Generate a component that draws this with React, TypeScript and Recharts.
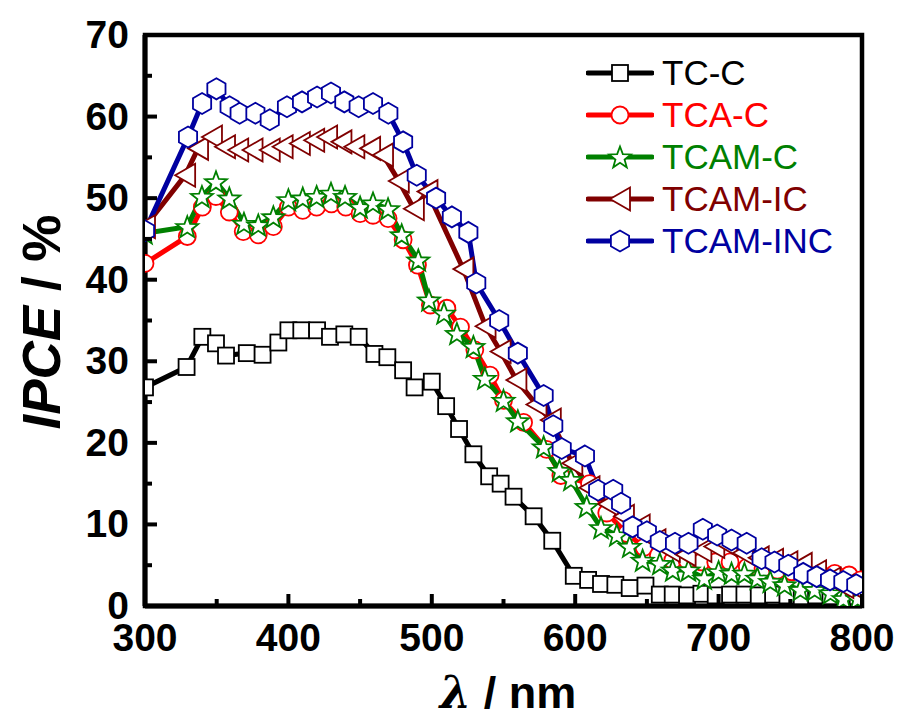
import React from "react";
import { LineChart, Line, XAxis, YAxis, ReferenceArea } from "recharts";

// wavelength (nm) / IPCE (%)
const TC_X = [300, 329, 340, 349.5, 356.5, 371, 382, 393, 400, 409, 420, 429, 439, 449, 460, 469, 480, 488, 500, 510, 519, 529, 540, 548, 557, 571, 584, 599, 609, 618, 628, 638, 649, 659, 668, 678, 688, 698, 708, 718, 728, 738, 748, 758, 768, 778, 788, 797];
const TC_Y = [26.8, 29.3, 33.0, 32.2, 30.7, 31.0, 30.8, 32.3, 33.8, 33.8, 33.8, 33.0, 33.3, 33.0, 30.9, 30.5, 28.9, 26.8, 27.5, 24.5, 21.7, 18.6, 15.9, 15.0, 13.4, 11.0, 8.0, 3.7, 3.2, 2.7, 2.6, 2.2, 2.5, 1.4, 1.4, 1.3, 1.5, 1.3, 1.4, 1.4, 1.3, 1.4, 1.3, 1.2, 1.3, 1.2, 1.3, 1.2];

const TCA_X = [300, 329.5, 340, 349.5, 358.8, 368.5, 379, 389.5, 400, 410, 419.7, 430, 440, 450, 459, 469.5, 480, 490, 499, 510.5, 520, 530, 540.6, 550, 564, 580, 590, 610, 622, 636, 648, 658, 668, 678, 688, 698, 708, 720, 731, 741, 751, 761, 771, 781, 791, 799];
const TCA_Y = [42.0, 45.3, 48.9, 50.2, 48.3, 45.9, 45.5, 46.5, 48.9, 48.5, 48.9, 49.3, 48.9, 48.1, 47.9, 47.5, 44.9, 41.8, 36.9, 36.5, 34.2, 31.4, 28.3, 25.2, 22.5, 19.2, 16.0, 15.0, 11.4, 8.9, 7.2, 6.2, 5.6, 5.6, 5.4, 5.4, 5.4, 4.8, 4.6, 4.4, 4.2, 4.0, 4.0, 4.0, 3.8, 3.2];

const TCAM_X = [300, 329.5, 339.7, 349.5, 358.8, 369, 379, 389.5, 400, 410, 419.7, 429.7, 439.5, 450, 459, 469.5, 479, 490.6, 498, 508.5, 517.5, 529, 537, 550, 560, 578, 589, 597, 608, 618, 629, 638, 647, 659, 668, 679, 690, 700, 709, 718, 727, 736, 746, 757, 767, 778, 787, 797];
const TCAM_Y = [45.7, 46.5, 50.2, 52.0, 50.0, 46.9, 46.7, 47.7, 49.8, 50.0, 50.2, 50.6, 50.2, 48.9, 49.4, 48.7, 45.5, 42.4, 37.5, 35.9, 33.4, 31.8, 27.9, 25.2, 22.7, 19.5, 16.6, 15.5, 12.2, 9.6, 8.7, 7.3, 5.6, 5.2, 4.4, 4.4, 3.4, 4.2, 4.0, 4.0, 3.4, 3.0, 2.6, 2.0, 2.0, 1.6, 0.9, 0.9];

const IC_X = [300, 328, 337, 346.7, 355.8, 365, 375, 387, 396, 408, 418, 427, 437, 446, 457, 466, 477, 487.5, 497, 522, 537.5, 548, 559, 573, 583, 598, 610, 623, 634, 645, 656, 666, 677, 688, 697, 706, 717, 728, 738, 748, 758, 768, 778, 787, 797];
const IC_Y = [46.5, 52.8, 56.1, 57.5, 56.3, 55.9, 55.9, 55.9, 56.3, 56.7, 57.1, 57.5, 56.9, 56.3, 56.1, 55.3, 52.1, 48.7, 50.8, 41.3, 34.3, 31.2, 27.7, 24.7, 22.8, 17.5, 14.5, 12.5, 11.0, 9.8, 8.0, 6.8, 6.3, 6.8, 7.3, 7.5, 6.5, 5.9, 5.6, 5.3, 5.1, 4.2, 3.3, 2.4, 2.0];

const INC_X = [300, 330, 339.8, 349.8, 359, 366, 377, 387, 399, 409.5, 420, 429.7, 439, 449, 459, 469.7, 480, 489.5, 503, 514, 525.5, 531, 547, 560, 578, 584.7, 590.6, 606.8, 616, 626.5, 632, 640, 650, 659, 669.6, 679, 689, 699, 709, 719.6, 730, 739, 748.6, 759, 768.4, 777.7, 787, 796];
const INC_Y = [46.0, 57.5, 61.6, 63.4, 61.2, 60.4, 60.4, 59.6, 61.2, 61.8, 62.4, 62.9, 61.8, 61.2, 61.6, 60.4, 56.9, 52.8, 50.0, 47.7, 45.8, 39.6, 35.0, 31.0, 25.8, 22.1, 19.3, 18.4, 14.2, 14.2, 12.6, 9.7, 9.1, 7.9, 7.7, 7.7, 9.4, 8.7, 8.1, 7.7, 5.8, 5.4, 5.0, 4.0, 3.6, 3.2, 3.0, 2.6];

const X_TICKS = [300, 350, 400, 450, 500, 550, 600, 650, 700, 750, 800];
const Y_TICKS = [0, 5, 10, 15, 20, 25, 30, 35, 40, 45, 50, 55, 60, 65, 70];

const FONT = "'Liberation Sans', Arial, sans-serif";

const toPoints = (xs: number[], ys: number[]) => xs.map((x, i) => ({ x, y: ys[i] }));

const SERIES = [
  { name: "TC-C", data: toPoints(TC_X, TC_Y), color: "#000000", shape: "square" },
  { name: "TCA-C", data: toPoints(TCA_X, TCA_Y), color: "#ff0000", shape: "circle" },
  { name: "TCAM-C", data: toPoints(TCAM_X, TCAM_Y), color: "#008000", shape: "star" },
  { name: "TCAM-IC", data: toPoints(IC_X, IC_Y), color: "#800000", shape: "triangle" },
  { name: "TCAM-INC", data: toPoints(INC_X, INC_Y), color: "#0000a0", shape: "hexagon" },
];

function polygon(cx: number, cy: number, n: number, r: number, rInner?: number) {
  const pts: string[] = [];
  const count = rInner ? n * 2 : n;
  for (let i = 0; i < count; i++) {
    const a = (-90 + (i * 360) / count) * (Math.PI / 180);
    const rr = rInner && i % 2 === 1 ? rInner : r;
    pts.push(`${cx + rr * Math.cos(a)},${cy + rr * Math.sin(a)}`);
  }
  return pts.join(" ");
}

function Marker({ shape, cx, cy, color }: { shape: string; cx: number; cy: number; color: string }) {
  const common = { fill: "#fff", stroke: color, strokeWidth: 1.8 };
  switch (shape) {
    case "square":
      return <rect x={cx - 8} y={cy - 8} width={16} height={16} {...common} />;
    case "circle":
      return <circle cx={cx} cy={cy} r={8.5} {...common} />;
    case "star":
      return <polygon points={polygon(cx, cy + 1, 5, 11.5, 4.8)} {...common} />;
    case "triangle":
      return (
        <polygon
          points={`${cx - 10},${cy} ${cx + 10},${cy - 11.5} ${cx + 10},${cy + 11.5}`}
          {...common}
        />
      );
    default:
      return <polygon points={polygon(cx, cy, 6, 10.5)} {...common} />;
  }
}

const makeDot = (shape: string, color: string) => (props: any) => {
  const { cx, cy, index } = props;
  if (cx == null || cy == null) return <g key={index} />;
  return <Marker key={index} shape={shape} cx={cx} cy={cy} color={color} />;
};

function XTick(props: any) {
  const { x, y, payload } = props;
  const major = payload.value % 100 === 0;
  return (
    <g>
      <line x1={x} x2={x} y1={y} y2={y - (major ? 12 : 7)} stroke="#000" strokeWidth={4} />
      {major && (
        <text x={x} y={y + 45} textAnchor="middle" fontFamily={FONT} fontWeight="bold" fontSize={39} fill="#000">
          {payload.value}
        </text>
      )}
    </g>
  );
}

function YTick(props: any) {
  const { x, y, payload } = props;
  const major = payload.value % 10 === 0;
  return (
    <g>
      <line x1={x} x2={x + (major ? 12 : 7)} y1={y} y2={y} stroke="#000" strokeWidth={4} />
      {major && (
        <text x={x - 16} y={y + 13} textAnchor="end" fontFamily={FONT} fontWeight="bold" fontSize={39} fill="#000">
          {payload.value}
        </text>
      )}
    </g>
  );
}

function XTitle() {
  return (
    <text x={508} y={708} textAnchor="middle" fontFamily={FONT} fontWeight="bold" fontSize={45} fill="#000">
      <tspan fontStyle="italic" fontFamily="'DejaVu Serif', serif">λ</tspan>
      <tspan> / nm</tspan>
    </text>
  );
}

function YTitle() {
  return (
    <text
      transform="translate(60,322) rotate(-90)"
      textAnchor="middle"
      fontFamily={FONT}
      fontWeight="bold"
      fontSize={53}
      fill="#000"
    >
      <tspan fontStyle="italic">IPCE</tspan>
      <tspan> / %</tspan>
    </text>
  );
}

function LegendBox() {
  return (
    <div style={{ position: "absolute", left: 586, top: 52, fontFamily: FONT }}>
      {SERIES.map((s) => (
        <div key={s.name} style={{ display: "flex", alignItems: "center", height: 42 }}>
          <svg width={68} height={30} style={{ display: "block" }}>
            <line x1={2} x2={66} y1={15} y2={15} stroke={s.color} strokeWidth={5} strokeLinecap="round" />
            <Marker shape={s.shape} cx={34} cy={15} color={s.color} />
          </svg>
          <span style={{ color: s.color, fontSize: 35, marginLeft: 8, lineHeight: "42px" }}>{s.name}</span>
        </div>
      ))}
    </div>
  );
}

export default function App() {
  return (
    <div style={{ position: "absolute", left: 0, top: 0, width: 906, height: 719, background: "#fff" }}>
      <LineChart width={906} height={719} margin={{ top: 35, right: 44, left: 0, bottom: 0 }}>
        <XAxis
          dataKey="x"
          type="number"
          domain={[300, 800]}
          ticks={X_TICKS}
          interval={0}
          allowDataOverflow
          height={113}
          tickSize={0}
          tickMargin={0}
          tickLine={false}
          axisLine={{ stroke: "#000", strokeWidth: 5 }}
          tick={<XTick />}
          label={<XTitle />}
        />
        <YAxis
          type="number"
          domain={[0, 70]}
          ticks={Y_TICKS}
          interval={0}
          allowDataOverflow
          width={145}
          tickSize={0}
          tickMargin={0}
          tickLine={false}
          axisLine={{ stroke: "#000", strokeWidth: 5 }}
          tick={<YTick />}
          label={<YTitle />}
        />
        {SERIES.map((s) => (
          <Line
            key={s.name}
            data={s.data}
            dataKey="y"
            name={s.name}
            type="linear"
            stroke={s.color}
            strokeWidth={5}
            dot={makeDot(s.shape, s.color)}
            activeDot={false}
            isAnimationActive={false}
          />
        ))}
        <ReferenceArea x1={300} x2={800} y1={0} y2={70} fill="none" stroke="#000" strokeWidth={4.5} ifOverflow="visible" />
      </LineChart>
      <LegendBox />
    </div>
  );
}
